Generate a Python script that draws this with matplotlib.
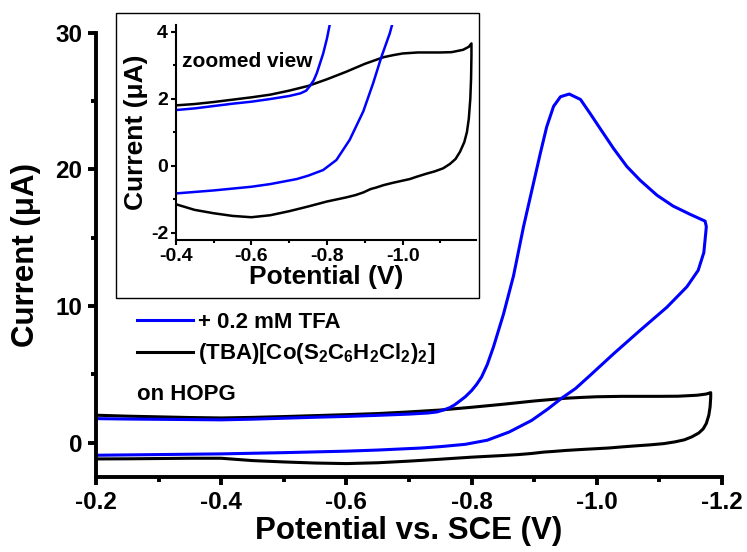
import matplotlib
matplotlib.use("Agg")
import matplotlib.pyplot as plt
from matplotlib.lines import Line2D
from matplotlib.patches import Rectangle
from matplotlib.ticker import FixedLocator

plt.rcParams['font.family'] = ['Liberation Sans', 'DejaVu Sans']
plt.rcParams['font.weight'] = 'bold'
plt.rcParams['axes.unicode_minus'] = False
plt.rcParams['mathtext.fontset'] = 'custom'
plt.rcParams['mathtext.rm'] = 'Liberation Sans:bold'
plt.rcParams['mathtext.it'] = 'Liberation Sans:bold'
plt.rcParams['mathtext.bf'] = 'Liberation Sans:bold'

# complex alone on HOPG (forward scan then reverse scan)
e_complex = [-0.20, -0.25, -0.30, -0.35, -0.40, -0.45, -0.50, -0.55, -0.60, -0.65,
             -0.70, -0.75, -0.80, -0.85, -0.90, -0.95, -0.975, -1.00, -1.04, -1.10,
             -1.13, -1.16, -1.175, -1.182,
             -1.182, -1.181, -1.179, -1.175, -1.170, -1.163, -1.152, -1.140, -1.125,
             -1.107, -1.085, -1.063, -1.04, -1.019, -0.995, -0.975, -0.95, -0.931,
             -0.915, -0.896, -0.875, -0.85, -0.80, -0.75, -0.70, -0.65, -0.60, -0.55,
             -0.50, -0.45, -0.40, -0.35, -0.30, -0.25, -0.20]
i_complex = [2.00, 1.93, 1.88, 1.83, 1.80, 1.84, 1.90, 1.97, 2.04, 2.12,
             2.24, 2.38, 2.58, 2.80, 3.04, 3.24, 3.30, 3.35, 3.38, 3.38,
             3.39, 3.46, 3.55, 3.65,
             3.30, 2.60, 2.00, 1.40, 1.00, 0.70, 0.42, 0.20, 0.05,
             -0.08, -0.17, -0.24, -0.32, -0.40, -0.46, -0.51, -0.58, -0.65,
             -0.70, -0.80, -0.88, -0.95, -1.07, -1.22, -1.36, -1.48, -1.54, -1.50,
             -1.42, -1.32, -1.15, -1.15, -1.17, -1.19, -1.20]

# with 0.2 mM TFA added
e_tfa = [-0.20, -0.25, -0.30, -0.35, -0.40, -0.45, -0.50, -0.55, -0.60, -0.65,
         -0.70, -0.73, -0.745, -0.755, -0.765, -0.773, -0.78, -0.79, -0.80, -0.808,
         -0.816, -0.825, -0.835, -0.851, -0.867, -0.883, -0.899, -0.910, -0.920,
         -0.931, -0.942, -0.956, -0.974, -0.989, -1.005, -1.027, -1.048, -1.069,
         -1.096, -1.122, -1.149, -1.173,
         -1.175, -1.174, -1.171, -1.162, -1.144, -1.112, -1.069, -1.027, -0.989,
         -0.966, -0.944, -0.922, -0.896, -0.86, -0.825, -0.79, -0.75, -0.72,
         -0.65, -0.60, -0.50, -0.40, -0.30, -0.20]
i_tfa = [1.75, 1.72, 1.70, 1.68, 1.66, 1.71, 1.78, 1.85, 1.91, 1.99,
         2.08, 2.16, 2.24, 2.38, 2.55, 2.76, 3.00, 3.35, 3.80, 4.25,
         4.80, 5.70, 7.00, 9.40, 12.2, 15.8, 19.0, 21.2, 23.1,
         24.6, 25.3, 25.5, 25.1, 24.1, 23.0, 21.5, 20.2, 19.2,
         18.1, 17.3, 16.7, 16.2,
         15.8, 15.3, 13.9, 12.6, 11.4, 9.9, 8.2, 6.5, 4.9,
         3.95, 3.25, 2.46, 1.62, 0.77, 0.17, -0.13, -0.30, -0.40,
         -0.55, -0.63, -0.74, -0.83, -0.88, -0.93]

fig = plt.figure(figsize=(7.47, 5.52), dpi=100)
ax = fig.add_axes([0.1285, 0.1364, 0.838, 0.8047])

ax.plot(e_complex, i_complex, color='black', lw=2.2)
ax.plot(e_tfa, i_tfa, color='#0000ff', lw=2.2)

ax.set_xlim(-0.2, -1.2)
ax.set_ylim(-2.5, 30)
ax.xaxis.set_major_locator(FixedLocator([-0.2, -0.4, -0.6, -0.8, -1.0, -1.2]))
ax.xaxis.set_minor_locator(FixedLocator([-0.3, -0.5, -0.7, -0.9, -1.1]))
ax.yaxis.set_major_locator(FixedLocator([0, 10, 20, 30]))
ax.yaxis.set_minor_locator(FixedLocator([5, 15, 25]))
ax.set_xticklabels(['-0.2', '-0.4', '-0.6', '-0.8', '-1.0', '-1.2'])
ax.set_yticklabels(['0', '10', '20', '30'])
for s in ['top', 'right']:
    ax.spines[s].set_visible(False)
for s in ['left', 'bottom']:
    ax.spines[s].set_linewidth(2.8)
ax.tick_params(which='major', direction='out', length=6, width=2.8, labelsize=17.5, pad=4)
ax.tick_params(which='minor', direction='out', length=3.5, width=2.8)
ax.set_xlabel('Potential vs. SCE (V)', fontsize=22.5, fontweight='bold', labelpad=2)
ax.set_ylabel('Current (μA)', fontsize=22.5, fontweight='bold', labelpad=10)

handles = [Line2D([], [], color='#0000ff', lw=2.2), Line2D([], [], color='black', lw=2.2)]
labels = ['+ 0.2 mM TFA', '(TBA)[Co(S$_2$C$_6$H$_2$Cl$_2$)$_2$]']
fig.legend(handles, labels, loc='upper left', bbox_to_anchor=(137 / 747, 1 - 312 / 552),
           frameon=False, handlelength=2.5, handletextpad=0.25,
           borderpad=0, borderaxespad=0, labelspacing=0.38,
           prop={'size': 16, 'weight': 'bold'})
fig.text(137 / 747, 1 - 395 / 552, 'on HOPG', fontsize=16, fontweight='bold', va='center')

# inset frame and zoomed axes
fig.patches.append(Rectangle((116 / 747, 1 - 298 / 552), (479 - 116) / 747, (298 - 12.7) / 552,
                             transform=fig.transFigure, facecolor='white', edgecolor='black',
                             lw=1.0, zorder=2))
axin = fig.add_axes([0.2352, 0.5652, 0.402, 0.3895], zorder=3)
axin.patch.set_alpha(0)
axin.plot(e_complex, i_complex, color='black', lw=1.8)
axin.plot(e_tfa, i_tfa, color='#0000ff', lw=1.8)
axin.set_xlim(-0.4, -1.194)
axin.set_ylim(-2.22, 4.2)
axin.xaxis.set_major_locator(FixedLocator([-0.4, -0.6, -0.8, -1.0]))
axin.xaxis.set_minor_locator(FixedLocator([-0.5, -0.7, -0.9, -1.1]))
axin.yaxis.set_major_locator(FixedLocator([-2, 0, 2, 4]))
axin.yaxis.set_minor_locator(FixedLocator([-1, 1, 3]))
axin.set_xticklabels(['-0.4', '-0.6', '-0.8', '-1.0'])
axin.set_yticklabels(['-2', '0', '2', '4'])
for s in ['top', 'right']:
    axin.spines[s].set_visible(False)
for s in ['left', 'bottom']:
    axin.spines[s].set_linewidth(1.5)
axin.tick_params(which='major', direction='out', length=3.5, width=1.5, labelsize=14, pad=2)
axin.tick_params(which='minor', direction='out', length=2, width=1.5)
axin.set_xlabel('Potential (V)', fontsize=19, fontweight='bold', labelpad=0)
axin.set_ylabel('Current (μA)', fontsize=19, fontweight='bold', labelpad=2)
axin.text(0.02, 0.83, 'zoomed view', transform=axin.transAxes, fontsize=15,
          fontweight='bold', va='center')

fig.savefig('out.png', dpi=100)
